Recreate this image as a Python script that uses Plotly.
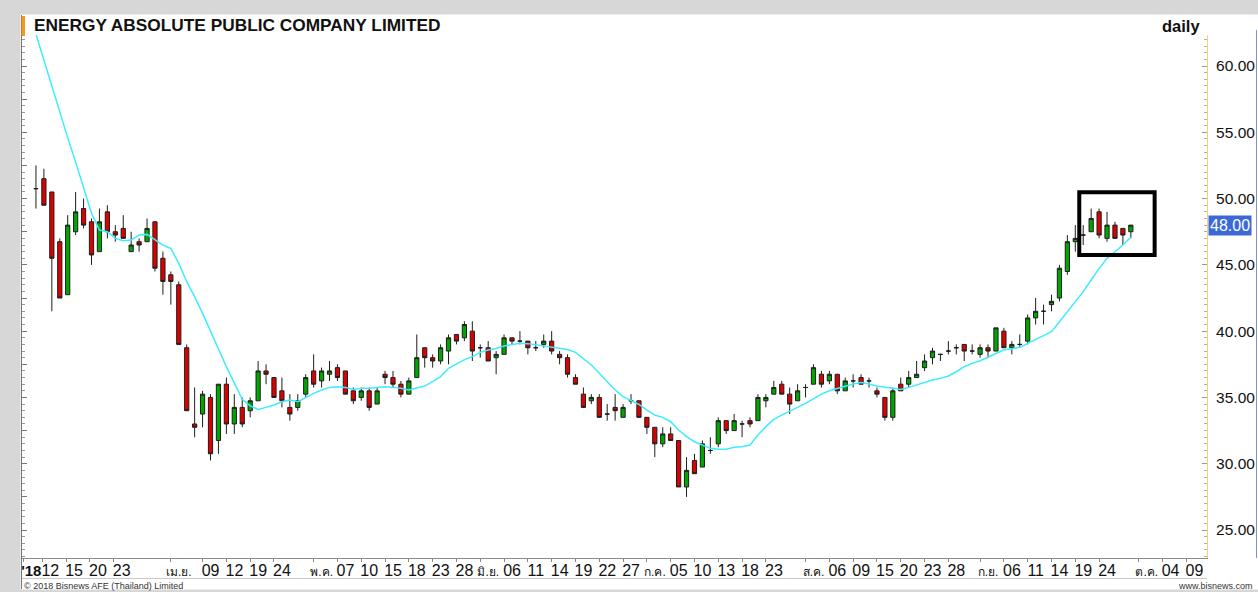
import plotly.graph_objects as go
import pandas as pd

# ---------------- data ----------------
# SET trading calendar 2018 (weekdays minus exchange holidays)
holidays = ["2018-04-06", "2018-04-13", "2018-04-16", "2018-05-01", "2018-05-29",
            "2018-07-27", "2018-07-30", "2018-08-13"]
calendar = [d.strftime("%Y-%m-%d") for d in pd.bdate_range("2018-03-08", "2018-10-12")
            if d.strftime("%Y-%m-%d") not in holidays]
dates = [d for d in calendar if d <= "2018-09-28"]

open_ = [50.75, 51.5, 50.5, 46.75, 42.75, 47.5, 49.25, 48.25, 46.0, 49.0,
         47.5, 47.75, 46.0, 46.75, 46.75, 48.25, 45.5, 44.25, 43.5, 38.75,
         33.0, 33.75, 35.0, 31.75, 36.0, 33.0, 34.25, 34.0, 34.75, 37.0,
         36.5, 35.5, 34.25, 34.25, 35.25, 37.0, 36.25, 36.75, 37.25, 37.0,
         35.5, 35.0, 35.5, 34.5, 36.75, 36.5, 36.0, 35.25, 36.5, 38.75,
         38.0, 37.75, 38.5, 39.75, 39.5, 40.0, 38.75, 38.75, 38.0, 38.25,
         39.5, 39.25, 39.25, 38.75, 39.0, 39.25, 38.25, 38.0, 36.5, 35.25,
         34.75, 35.0, 33.75, 34.25, 33.5, 34.75, 34.75, 33.5, 32.75, 31.5,
         32.25, 31.75, 28.25, 30.25, 29.75, 31.0, 31.5, 33.25, 32.5, 33.0,
         33.25, 33.25, 34.75, 35.25, 36.0, 35.25, 34.75, 35.75, 36.0, 36.75,
         36.25, 36.75, 35.5, 36.25, 36.5, 36.25, 35.5, 35.0, 33.5, 36.0,
         36.0, 36.5, 37.25, 38.0, 38.25, 38.5, 38.75, 39.0, 38.5, 38.25,
         38.75, 38.5, 40.0, 38.75, 39.0, 39.25, 41.0, 41.5, 42.0, 42.5,
         44.5, 46.75, 47.25, 47.5, 49.0, 47.0, 48.0, 47.75, 47.5]

high = [52.5, 52.25, 50.5, 47.0, 48.75, 50.5, 50.0, 48.5, 49.25, 49.5,
        48.0, 48.75, 47.5, 47.0, 48.5, 48.25, 46.0, 44.5, 43.75, 39.0,
        35.75, 35.5, 35.25, 36.0, 36.5, 35.25, 35.0, 35.0, 37.75, 37.5,
        36.5, 36.5, 35.25, 35.25, 36.75, 38.25, 37.25, 37.75, 37.5, 37.0,
        35.75, 35.75, 35.75, 35.75, 37.0, 37.0, 36.25, 36.5, 39.75, 38.75,
        38.25, 39.0, 39.75, 39.75, 40.75, 40.75, 39.0, 39.25, 38.5, 39.75,
        39.5, 40.0, 39.25, 39.25, 39.75, 40.0, 38.5, 38.25, 36.75, 35.75,
        35.25, 35.25, 34.5, 35.25, 34.5, 35.25, 34.75, 33.5, 32.75, 32.75,
        32.75, 31.75, 30.5, 30.75, 31.75, 32.0, 33.5, 33.25, 33.75, 33.25,
        33.5, 35.25, 35.25, 36.25, 36.25, 35.75, 36.0, 36.0, 37.5, 37.0,
        37.0, 36.75, 36.5, 36.75, 36.75, 36.5, 35.75, 35.0, 35.75, 36.5,
        37.0, 37.75, 38.25, 38.75, 38.25, 39.25, 39.0, 39.0, 39.0, 39.0,
        39.0, 40.25, 40.25, 39.25, 39.75, 41.25, 42.5, 42.0, 42.75, 45.0,
        47.25, 48.0, 48.0, 49.25, 49.25, 49.0, 48.25, 47.75, 48.0]

low = [49.25, 49.5, 41.5, 42.5, 42.75, 47.25, 47.75, 45.0, 46.0, 47.0,
       46.75, 47.0, 46.0, 46.0, 46.75, 44.5, 42.75, 42.0, 39.0, 34.0,
       32.0, 32.75, 30.25, 30.75, 32.25, 32.25, 32.75, 33.5, 34.75, 36.0,
       35.0, 34.25, 33.25, 34.0, 35.0, 35.75, 35.75, 36.25, 36.25, 35.25,
       34.5, 34.75, 34.0, 34.5, 36.0, 35.75, 35.0, 35.25, 36.5, 37.25,
       37.25, 37.5, 37.5, 39.0, 39.25, 37.75, 38.0, 37.75, 36.75, 38.25,
       39.0, 39.0, 38.25, 38.5, 38.75, 38.25, 37.5, 36.5, 36.0, 34.25,
       34.5, 33.5, 33.25, 33.25, 33.5, 34.5, 33.5, 32.25, 30.5, 31.25,
       31.75, 28.25, 27.5, 29.25, 29.75, 30.75, 31.25, 32.25, 32.5, 32.0,
       32.75, 33.25, 34.25, 35.25, 35.25, 33.75, 34.75, 35.0, 36.0, 35.75,
       36.0, 35.25, 35.5, 35.75, 36.0, 35.75, 35.0, 33.25, 33.25, 35.5,
       35.75, 36.5, 37.0, 37.5, 37.75, 38.25, 38.25, 37.75, 38.25, 38.0,
       38.0, 38.5, 38.75, 38.25, 38.75, 39.0, 40.5, 40.5, 41.5, 42.25,
       44.25, 46.0, 46.5, 47.5, 47.0, 46.75, 47.0, 46.5, 47.0]

close = [50.75, 49.5, 45.5, 42.5, 48.0, 49.0, 48.0, 45.75, 48.25, 47.5,
         47.25, 47.0, 46.5, 46.5, 47.75, 44.75, 43.75, 43.75, 39.0, 34.0,
         32.75, 35.25, 30.75, 36.0, 33.0, 34.25, 33.0, 34.75, 37.0, 36.75,
         35.0, 34.75, 33.75, 34.75, 36.5, 36.0, 37.0, 37.0, 36.5, 35.25,
         34.75, 35.5, 34.25, 35.5, 36.5, 36.0, 35.25, 36.25, 38.0, 38.0,
         37.75, 38.75, 39.5, 39.25, 40.5, 38.5, 38.75, 37.75, 38.25, 39.5,
         39.25, 39.25, 38.75, 38.75, 39.25, 38.5, 38.0, 36.75, 36.0, 34.25,
         35.0, 33.5, 33.75, 34.0, 34.25, 34.75, 33.5, 32.75, 31.5, 32.25,
         31.75, 28.25, 29.5, 29.25, 31.5, 31.0, 33.25, 32.5, 33.25, 33.0,
         33.0, 35.0, 35.0, 35.75, 35.25, 34.5, 35.5, 35.75, 37.25, 36.0,
         36.75, 35.5, 36.25, 36.25, 36.0, 36.25, 35.25, 33.5, 35.5, 35.5,
         36.5, 36.75, 37.75, 38.5, 38.25, 38.5, 38.75, 38.5, 38.5, 38.75,
         38.5, 40.25, 38.75, 39.0, 39.0, 41.0, 41.5, 41.5, 42.25, 44.75,
         46.75, 47.0, 47.25, 48.5, 47.25, 48.0, 47.0, 47.25, 48.0]

ma = [62.4, 60.4, 58.5, 56.5, 54.6, 52.75, 50.75, 48.9, 47.63, 47.5,
      47.0, 46.82, 46.87, 47.25, 47.3, 46.92, 46.49, 46.24, 45.11, 43.73,
      42.6, 41.34, 39.96, 38.58, 37.32, 36.1, 34.86, 34.36, 34.1, 34.25,
      34.43, 34.68, 34.81, 34.68, 35.01, 35.31, 35.56, 35.76, 35.81, 35.76,
      35.61, 35.69, 35.69, 35.76, 35.81, 35.76, 35.69, 35.56, 35.69, 35.86,
      36.19, 36.57, 37.2, 37.55, 37.85, 38.08, 38.4, 38.58, 38.7, 38.88,
      39.0, 39.08, 39.06, 38.98, 38.88, 38.78, 38.7, 38.62, 38.4, 37.95,
      37.45, 36.82, 36.19, 35.56, 35.06, 34.76, 34.47, 34.05, 33.67, 33.5,
      33.17, 32.54, 32.04, 31.66, 31.41, 31.16, 31.09, 31.09, 31.24, 31.29,
      31.41, 32.17, 32.8, 33.35, 33.67, 33.93, 34.25, 34.55, 34.93, 35.25,
      35.5, 35.69, 35.86, 36.02, 36.12, 36.02, 35.86, 35.76, 35.69, 35.61,
      35.76, 35.94, 36.12, 36.32, 36.44, 36.62, 36.94, 37.32, 37.57, 37.77,
      38.03, 38.33, 38.6, 38.68, 38.78, 39.08, 39.38, 39.63, 39.96, 40.71,
      41.47, 42.22, 42.98, 43.86, 44.74, 45.49, 45.99, 46.5, 47.08]

tick_dates = ["2018-03-12", "2018-03-15", "2018-03-20", "2018-03-23",
              "2018-04-02", "2018-04-09", "2018-04-12", "2018-04-19", "2018-04-24",
              "2018-05-02", "2018-05-07", "2018-05-10", "2018-05-15", "2018-05-18", "2018-05-23", "2018-05-28",
              "2018-06-01", "2018-06-06", "2018-06-11", "2018-06-14", "2018-06-19", "2018-06-22", "2018-06-27",
              "2018-07-02", "2018-07-05", "2018-07-10", "2018-07-13", "2018-07-18", "2018-07-23",
              "2018-08-01", "2018-08-06", "2018-08-09", "2018-08-15", "2018-08-20", "2018-08-23", "2018-08-28",
              "2018-09-03", "2018-09-06", "2018-09-11", "2018-09-14", "2018-09-19", "2018-09-24",
              "2018-10-01", "2018-10-04", "2018-10-09"]
tick_labels = ["12", "15", "20", "23",
               "เม.ย.", "09", "12", "19", "24",
               "พ.ค.", "07", "10", "15", "18", "23", "28",
               "มิ.ย.", "06", "11", "14", "19", "22", "27",
               "ก.ค.", "05", "10", "13", "18", "23",
               "ส.ค.", "06", "09", "15", "20", "23", "28",
               "ก.ย.", "06", "11", "14", "19", "24",
               "ต.ค.", "04", "09"]
year_label = "'18"

title = "ENERGY ABSOLUTE PUBLIC COMPANY LIMITED"

# ---------------- figure ----------------
W, H = 1258, 592
ML, MR, MT, MB = 22, 51, 35, 34
PW, PH = W - ML - MR, H - MT - MB


def px(xp):
    return (xp - ML) / PW


def py(yp):
    return (H - MB - yp) / PH


x = list(range(len(dates)))
month_names = {"เม.ย.", "พ.ค.", "มิ.ย.", "ก.ค.", "ส.ค.", "ก.ย.", "ต.ค."}
# the first month's labels sit a little left of their sessions in the original chart
tickvals = [-1.6] + [calendar.index(d) - (1.2 if d < "2018-04-01" else 0) for d in tick_dates]
ticktext = ['<b><span style="font-size:15px">' + year_label + "</span></b>"] + [
    ('<span style="font-size:12px">' + t + "</span>") if t in month_names else t
    for t in tick_labels]

FONT = "Liberation Sans, Arial, sans-serif"

fig = go.Figure()
fig.add_trace(go.Candlestick(
    x=x, open=open_, high=high, low=low, close=close,
    increasing=dict(fillcolor="#00a600", line=dict(color="#1e1e1e", width=1)),
    decreasing=dict(fillcolor="#dc0000", line=dict(color="#1e1e1e", width=1)),
    whiskerwidth=0, showlegend=False, hoverinfo="skip"))
fig.add_trace(go.Scatter(x=x, y=ma, mode="lines",
                         line=dict(color="#3cecff", width=1.5),
                         showlegend=False, hoverinfo="skip"))
fig.add_trace(go.Scatter(x=[None], y=[None], yaxis="y2", showlegend=False, hoverinfo="skip"))

yr = [22.89, 62.34]

fig.update_layout(
    width=W, height=H,
    margin=dict(l=ML, r=MR, t=MT, b=MB, pad=0, autoexpand=False),
    paper_bgcolor="white", plot_bgcolor="white",
    font=dict(family=FONT, color="#1a1a1a"),
    boxgap=0.24,
    xaxis=dict(range=[-1.76, 147.6], tickmode="array", tickvals=tickvals, ticktext=ticktext,
               tickangle=0,
               ticks="outside", ticklen=3, tickcolor="#888", showline=True, linecolor="#8a8a8a",
               linewidth=1, showgrid=False, zeroline=False, rangeslider=dict(visible=False),
               tickfont=dict(size=16, family=FONT, color="#111"), ticklabelshift=8,
               ticklabelstandoff=-5, fixedrange=True, automargin=False),
    yaxis=dict(range=yr, side="right", tickmode="linear", tick0=0, dtick=5, tickformat=".2f",
               ticks="inside", ticklen=5, tickcolor="#9a9a9a",
               minor=dict(dtick=0.5, tick0=0, ticks="inside", ticklen=3, tickcolor="#b0b0b0"),
               showline=True, linecolor="#f3d37a", linewidth=1, showgrid=False, zeroline=False,
               tickfont=dict(size=15.5, family=FONT, color="#111"), ticklabelstandoff=5,
               fixedrange=True, automargin=False),
    yaxis2=dict(range=yr, overlaying="y", side="left", showticklabels=False,
                tickmode="linear", tick0=0, dtick=2.5, ticks="inside", ticklen=5, tickcolor="#777",
                minor=dict(dtick=0.5, tick0=0, ticks="inside", ticklen=3, tickcolor="#999"),
                showline=True, linecolor="#666", linewidth=1, showgrid=False, zeroline=False,
                fixedrange=True, automargin=False),
)

shapes = []
GRAY = "#d7d7d7"
# outer gray frame
shapes.append(dict(type="rect", xref="paper", yref="paper", x0=px(0), x1=px(W), y0=py(0), y1=py(14.5),
                   fillcolor=GRAY, line=dict(width=0), layer="below"))
shapes.append(dict(type="rect", xref="paper", yref="paper", x0=px(0), x1=px(20.5), y0=py(H), y1=py(0),
                   fillcolor=GRAY, line=dict(width=0), layer="below"))
shapes.append(dict(type="rect", xref="paper", yref="paper", x0=px(0), x1=px(W), y0=py(H), y1=py(589.5),
                   fillcolor=GRAY, line=dict(width=0), layer="below"))
# panel left border
shapes.append(dict(type="line", xref="paper", yref="paper", x0=px(21.5), x1=px(21.5), y0=py(589), y1=py(15),
                   line=dict(color="#777", width=1)))
# orange marker by the title
shapes.append(dict(type="rect", xref="paper", yref="paper", x0=px(21.5), x1=px(25), y0=py(36), y1=py(16),
                   fillcolor="#f39a1e", line=dict(width=0)))
# label strip bottom line
shapes.append(dict(type="line", xref="paper", yref="paper", x0=px(22), x1=px(1207), y0=py(578.5), y1=py(578.5),
                   line=dict(color="#c8c8c8", width=1)))
# right window edge
shapes.append(dict(type="line", xref="paper", yref="paper", x0=px(1256.5), x1=px(1256.5), y0=py(558), y1=py(30),
                   line=dict(color="#8092c8", width=1)))
# highlight box around the last candles
shapes.append(dict(type="rect", xref="x", yref="y", x0=131.5, x1=141.0, y0=45.74, y1=50.48,
                   line=dict(color="black", width=4), fillcolor="rgba(0,0,0,0)"))
fig.update_layout(shapes=shapes)

ann = []
ann.append(dict(text="<b>" + title + "</b>", xref="paper", yref="paper", x=px(32), y=py(25.5),
                xanchor="left", yanchor="middle", showarrow=False,
                font=dict(size=17.3, family=FONT, color="#111")))
ann.append(dict(text="<b>daily</b>", xref="paper", yref="paper", x=px(1202), y=py(26),
                xanchor="right", yanchor="middle", showarrow=False,
                font=dict(size=16.5, family=FONT, color="#111")))
ann.append(dict(text=f"{close[-1]:.2f}", xref="paper", yref="y", x=px(1208), y=close[-1],
                xanchor="left", yanchor="middle", showarrow=False, bgcolor="#3b69d8",
                borderpad=1, font=dict(size=16, family=FONT, color="white")))
ann.append(dict(text="© 2018 Bisnews AFE (Thailand) Limited", xref="paper", yref="paper",
                x=px(22), y=py(585.5), xanchor="left", yanchor="middle", showarrow=False,
                font=dict(size=9, family=FONT, color="#333")))
ann.append(dict(text="www.bisnews.com", xref="paper", yref="paper",
                x=px(1255), y=py(586), xanchor="right", yanchor="middle", showarrow=False,
                font=dict(size=9, family=FONT, color="#333")))
fig.update_layout(annotations=ann)

fig.write_html(
    "out.html",
    config={"displayModeBar": False},
    post_script=("document.documentElement.style.margin='0';"
                 "document.documentElement.style.overflow='hidden';"
                 "document.body.style.margin='0';document.body.style.padding='0';"
                 "document.body.style.overflow='hidden';"))
